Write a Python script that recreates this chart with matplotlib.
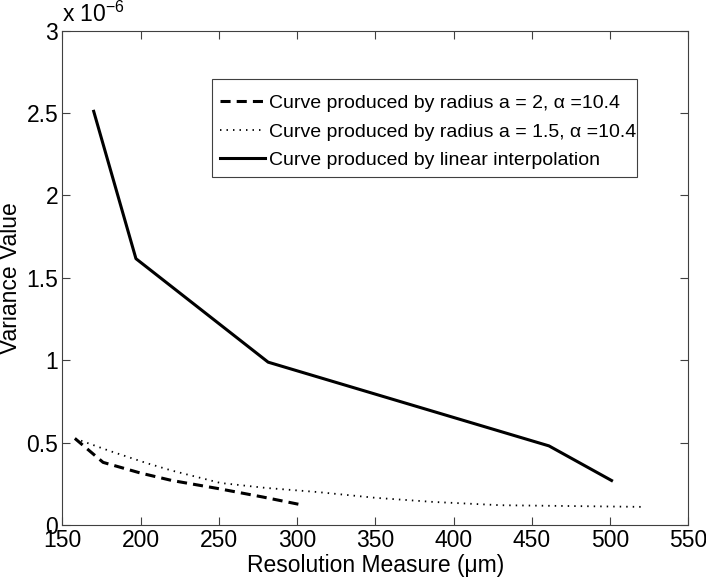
import matplotlib
matplotlib.use("Agg")
import matplotlib.pyplot as plt
from matplotlib.ticker import FuncFormatter
from matplotlib.patches import Rectangle

plt.rcParams['font.family'] = ['Liberation Sans', 'DejaVu Sans']
plt.rcParams['mathtext.fontset'] = 'custom'
plt.rcParams['mathtext.rm'] = 'Liberation Sans'
plt.rcParams['mathtext.it'] = 'Liberation Sans:italic'

# Data (variance values in units of 1e-6)
x_a2 = [158, 176, 200, 220, 249, 278, 304]
y_a2 = [0.525, 0.38, 0.315, 0.27, 0.222, 0.17, 0.12]

x_a15 = [158, 180, 204, 220, 251, 280, 313, 350, 387, 430, 475, 520]
y_a15 = [0.525, 0.45, 0.375, 0.33, 0.255, 0.225, 0.20, 0.165, 0.14, 0.12, 0.115, 0.11]

x_lin = [170, 197, 281.5, 461, 501]
y_lin = [2.51, 1.616, 0.988, 0.48, 0.27]

labels = ["Curve produced by radius a = 2, \u03b1 =10.4",
          "Curve produced by radius a = 1.5, \u03b1 =10.4",
          "Curve produced by linear interpolation"]
x_ticks = [150, 200, 250, 300, 350, 400, 450, 500, 550]
y_ticks = [0, 0.5, 1, 1.5, 2, 2.5, 3]

fig = plt.figure(figsize=(7.06, 5.78), dpi=100)
ax = fig.add_axes([0.0884, 0.0917, 0.8864, 0.8554])

ax.plot(x_a2, y_a2, color='black', lw=2.2, linestyle=(0, (3.3, 2.0)), label=labels[0])
ax.plot(x_a15, y_a15, color='black', lw=1.3, linestyle=(0, (0.8, 2.8)), label=labels[1])
ax.plot(x_lin, y_lin, color='black', lw=2.2, linestyle='-', label=labels[2])

ax.set_xlim(150, 550)
ax.set_ylim(0, 3)
ax.set_xticks(x_ticks)
ax.set_yticks(y_ticks)
ax.yaxis.set_major_formatter(FuncFormatter(lambda v, p: '%g' % v))
ax.tick_params(direction='in', top=True, right=True, length=6, width=0.8,
               labelsize=16.5, colors='#404040', labelcolor='black', pad=3)
for s in ax.spines.values():
    s.set_color('#404040')
    s.set_linewidth(0.8)

ax.set_xlabel("Resolution Measure (\u03bcm)", fontsize=16.5, labelpad=1)
ax.set_ylabel("Variance Value", fontsize=16.5, labelpad=3)

ax.text(0.0, 1.008, "x 10$^{\\mathregular{-6}}$", transform=ax.transAxes,
        fontsize=16.5, ha='left', va='bottom')

# legend frame (MATLAB-style tight box)
ax.add_patch(Rectangle((0.2386, 0.7045), 0.9177 - 0.2386, 0.9015 - 0.7045,
                       transform=ax.transAxes, facecolor='white',
                       edgecolor='#404040', linewidth=0.8, zorder=4))
leg = ax.legend(loc='upper left', bbox_to_anchor=(0.2518, 0.8704), fontsize=14,
                frameon=False, handlelength=2.3, handletextpad=0.2,
                borderpad=0, labelspacing=0.56, borderaxespad=0)
leg.set_zorder(5)

fig.savefig("out.png", dpi=100)
